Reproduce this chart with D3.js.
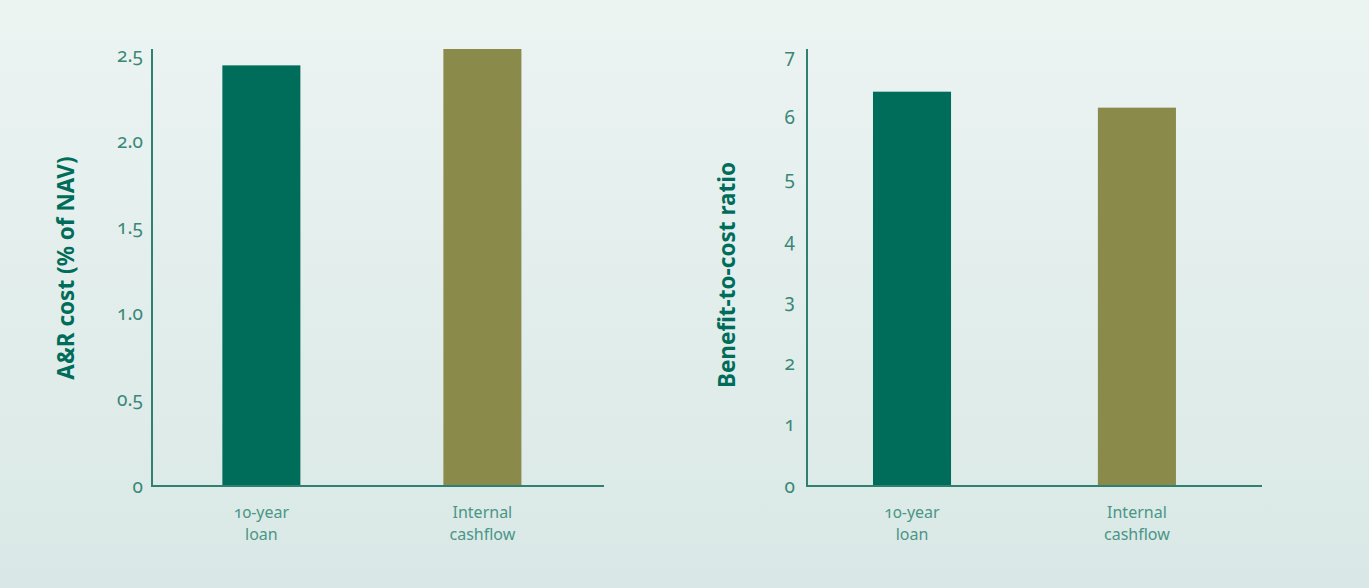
<!DOCTYPE html>
<html>
<head>
<meta charset="utf-8">
<script src="https://cdn.jsdelivr.net/npm/d3@7"></script>
<style>
  html, body { margin: 0; padding: 0; }
  body { width: 1369px; height: 588px; overflow: hidden; }
  svg text { font-family: "Noto Sans", "Open Sans", sans-serif; font-variant-numeric: oldstyle-nums; }
</style>
</head>
<body>
<svg id="chart"></svg>
<script>
(function(){

  var width = 1369;
  var height = 588;

  // data
  var categories = ['10-year loan', 'Internal cashflow'];
  var categoryLines = [['10-year', 'loan'], ['Internal', 'cashflow']];
  var costValues = [2.44, 2.535];
  var ratioValues = [6.42, 6.16];
  var costTicks = [0, 0.5, 1.0, 1.5, 2.0, 2.5];
  var costTickLabels = ['0', '0.5', '1.0', '1.5', '2.0', '2.5'];
  var ratioTicks = [0, 1, 2, 3, 4, 5, 6, 7];
  var ratioTickLabels = ['0', '1', '2', '3', '4', '5', '6', '7'];
  var barColors = ['#006c5a', '#8a8a4a'];

  var svg = d3.select('#chart')
              .attr('width', width)
              .attr('height', height);

  var grad = svg.append('defs').append('linearGradient')
                .attr('id', 'bg')
                .attr('x1', 0).attr('y1', 0).attr('x2', 0).attr('y2', 1);
  grad.append('stop').attr('offset', '0%').attr('stop-color', '#ecf4f2');
  grad.append('stop').attr('offset', '100%').attr('stop-color', '#d9e8e6');

  svg.append('rect')
     .attr('width', width)
     .attr('height', height)
     .attr('fill', 'url(#bg)');

  drawPanel({
    left: 152, right: 604, top: 49, bottom: 486,
    max: 2.535, values: costValues,
    ticks: costTicks, tickLabels: costTickLabels, labelGap: 9,
    paddingInner: 0.647, paddingOuter: 0.346, align: 0.46,
    title: 'A&R cost (% of NAV)', titleX: 66, titleY: 268
  });

  drawPanel({
    left: 807, right: 1262, top: 49, bottom: 486,
    max: 7.115, values: ratioValues,
    ticks: ratioTicks, tickLabels: ratioTickLabels, labelGap: 12,
    paddingInner: 0.653, paddingOuter: 0.338, align: 0.434,
    title: 'Benefit-to-cost ratio', titleX: 727, titleY: 275
  });

  function drawPanel(p) {
    var g = svg.append('g');

    var x = d3.scaleBand()
              .domain(categories)
              .range([p.left, p.right])
              .paddingInner(p.paddingInner)
              .paddingOuter(p.paddingOuter)
              .align(p.align);

    var y = d3.scaleLinear()
              .domain([0, p.max])
              .range([p.bottom, p.top]);

    g.selectAll('rect.bar')
     .data(p.values)
     .enter()
     .append('rect')
     .attr('class', 'bar')
     .attr('x', function(d, i) { return x(categories[i]); })
     .attr('y', function(d) { return y(d); })
     .attr('width', x.bandwidth())
     .attr('height', function(d) { return y(0) - y(d); })
     .attr('fill', function(d, i) { return barColors[i]; });

    // y axis, no tick marks
    var yAxis = d3.axisLeft(y)
                  .tickValues(p.ticks)
                  .tickFormat(function(d, i) { return p.tickLabels[i]; })
                  .tickSize(0)
                  .tickPadding(p.labelGap);

    var ya = g.append('g')
              .attr('transform', 'translate(' + p.left + ',0)')
              .call(yAxis);
    ya.select('.domain').remove();
    ya.selectAll('text')
      .attr('fill', '#3a8777')
      .attr('font-size', '19px')
      .style('font-family', '"Noto Sans", sans-serif');

    g.append('line')
     .attr('x1', p.left).attr('x2', p.left)
     .attr('y1', y.range()[1]).attr('y2', y(0))
     .attr('stroke', '#2f8070')
     .attr('stroke-width', 2);

    g.append('line')
     .attr('x1', p.left - 1).attr('x2', p.right)
     .attr('y1', y(0)).attr('y2', y(0))
     .attr('stroke', '#2f8070')
     .attr('stroke-width', 2);

    // category labels, one text per line
    categories.forEach(function(c, i) {
      categoryLines[i].forEach(function(line, j) {
        g.append('text')
         .attr('class', 'cat')
         .attr('text-anchor', 'middle')
         .attr('fill', '#4a9686')
         .attr('font-size', '16px')
         .attr('x', x(c) + x.bandwidth() / 2)
         .attr('y', y(0) + 32 + j * 22)
         .text(line);
      });
    });

    g.append('text')
     .attr('transform', 'translate(' + p.titleX + ',' + p.titleY + ') rotate(-90)')
     .attr('text-anchor', 'middle')
     .attr('dy', '0.35em')
     .attr('fill', '#006c5a')
     .attr('font-weight', 'bold')
     .attr('font-size', '22.5px')
     .text(p.title);
  }

})();
</script>
</body>
</html>
